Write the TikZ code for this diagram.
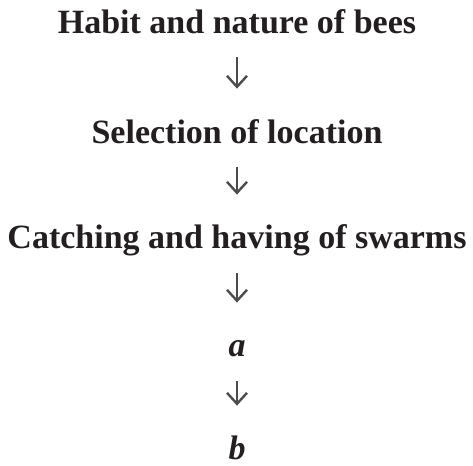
\documentclass[tikz,border=0pt]{standalone}
\usepackage{fontspec}
\setmainfont{Liberation Serif}
\usetikzlibrary{arrows.meta}
\definecolor{inkgrey}{HTML}{231F20}
\tikzset{
	stage/.style={font=\fontsize{17}{20}\selectfont\bfseries, text=inkgrey, inner sep=0pt, text height=11pt, text depth=4pt, anchor=base},
	flow/.style={-{Straight Barb[length=5.5pt,width=10pt,line width=1.2pt]}, line width=1.3pt, draw=black!70, shorten <=8pt, shorten >=16pt}
}
\begin{document}
\begin{tikzpicture}[x=0.5pt,y=-0.5pt]
			%%%%% START %%%%%
			\useasboundingbox (0,0) rectangle (473,466);
			
			\node[stage] (habit) at (237,33) {Habit and nature of bees};
			\node[stage] (location) at (237,143) {Selection of location};
			\node[stage] (swarms) at (237,249) {Catching and having of swarms};
			\node[stage] (a) at (237,357) {\itshape a};
			\node[stage] (b) at (237,460) {\itshape b};
			
			\draw[flow] (habit) -- (location);
			\draw[flow] (location) -- (swarms);
			\draw[flow] (swarms) -- (a);
			\draw[flow] (a) -- (b);
			
			%%%%% END %%%%%
\end{tikzpicture}
\end{document}
